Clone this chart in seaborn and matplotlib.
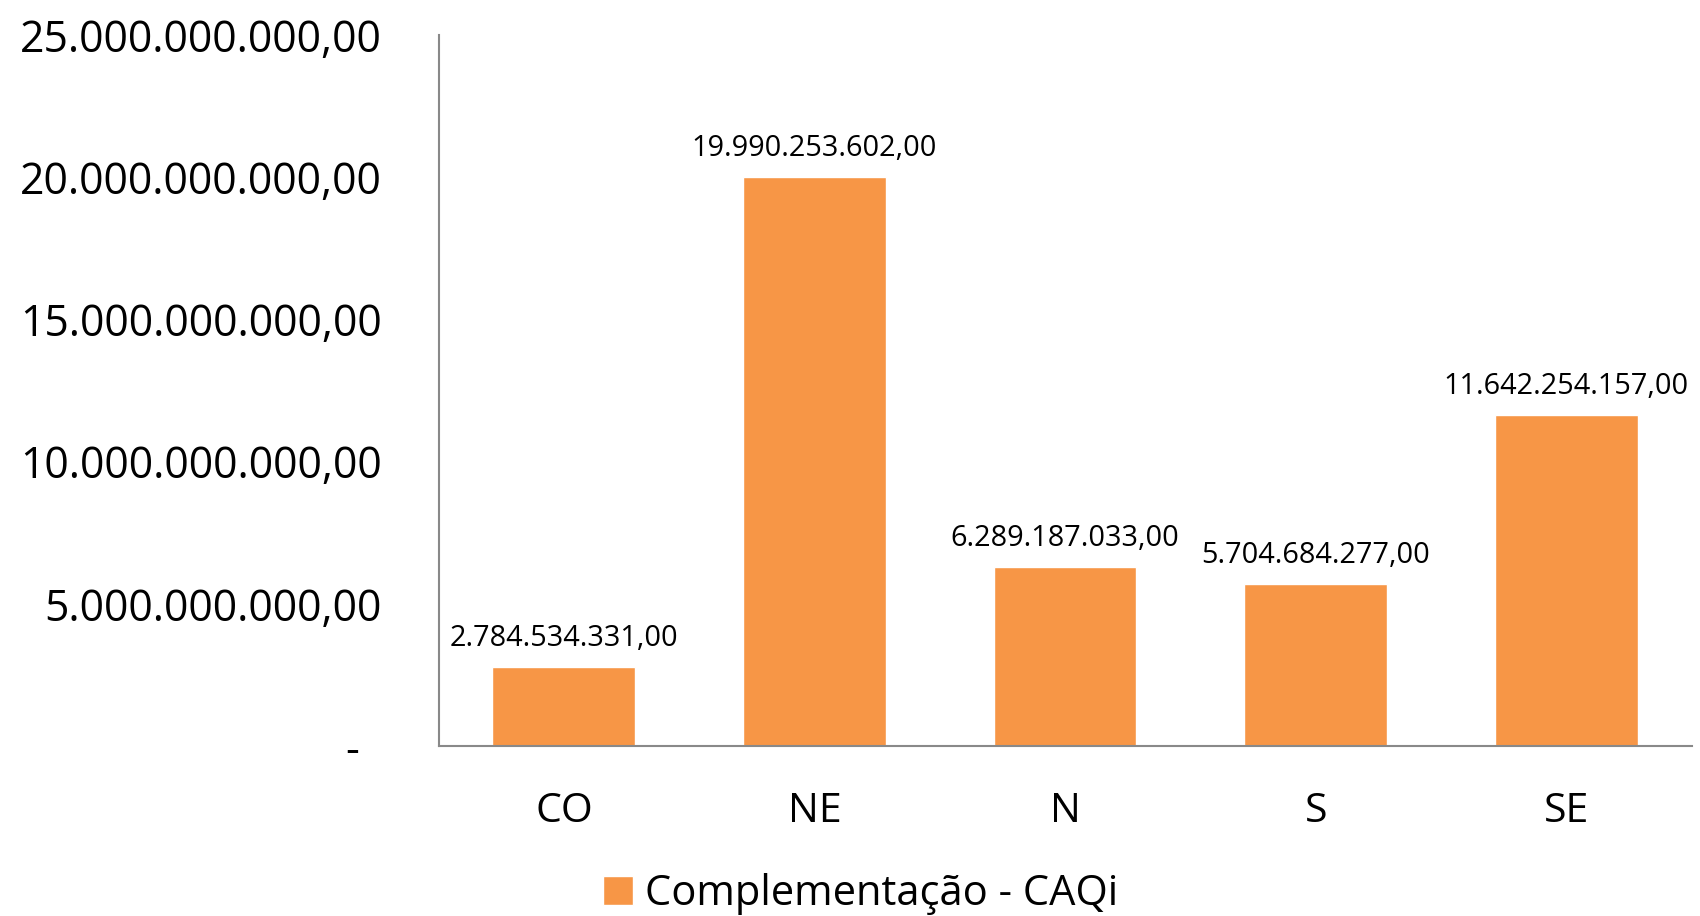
import matplotlib
matplotlib.use("Agg")
import matplotlib.pyplot as plt
import seaborn as sns
import pandas as pd
from matplotlib.patches import Patch

regions = ["CO", "NE", "N", "S", "SE"]
values = [2784534331.00, 19990253602.00, 6289187033.00, 5704684277.00, 11642254157.00]
series_name = "Complementação - CAQi"
yticks = [0, 5e9, 10e9, 15e9, 20e9, 25e9]

def br(v):
    s = f"{v:,.2f}"
    return s.replace(",", "X").replace(".", ",").replace("X", ".")

sns.set_theme(style="white")
plt.rcParams['font.family'] = ['Open Sans', 'DejaVu Sans']
plt.rcParams['text.color'] = 'black'
plt.rcParams['xtick.color'] = 'black'
plt.rcParams['ytick.color'] = 'black'

df = pd.DataFrame({"region": regions, "value": values, "serie": series_name})
color = "#F79646"

fig = plt.figure(figsize=(17, 9.16), dpi=100)
ax = fig.add_axes([0.258, 0.1856, 0.737, 0.7764])
sns.barplot(data=df, x="region", y="value", hue="serie", palette=[color],
            width=0.57, ax=ax, legend=False, saturation=1)
ax.set_xlim(-0.5, 4.5)
ax.set_ylim(0, 25e9)
ax.set_yticks(yticks)
ax.set_yticklabels(["-  " if t == 0 else br(t) for t in yticks], fontsize=30.8)
ax.tick_params(axis="x", labelsize=29.5, pad=33, length=0, labelcolor="black")
ax.tick_params(axis="y", pad=41, length=0, labelcolor="black")
ax.set_xlabel("")
ax.set_ylabel("")
for s in ["top", "right"]:
    ax.spines[s].set_visible(False)
for s in ["left", "bottom"]:
    ax.spines[s].set_color("#898989")
    ax.spines[s].set_linewidth(1.5)
for i, v in enumerate(values):
    ax.annotate(br(v), (i, v), xytext=(0, 10), textcoords="offset points",
                ha="center", va="bottom", fontsize=20.8, color="black")
leg = fig.legend(handles=[Patch(facecolor=color, label=series_name)],
                 loc="center", bbox_to_anchor=(861/1700, 1 - 894/916), frameon=False,
                 fontsize=30, handlelength=0.7, handleheight=0.7, handletextpad=0.3)
for t in leg.get_texts():
    t.set_color("black")
fig.savefig("out.png", dpi=100)
